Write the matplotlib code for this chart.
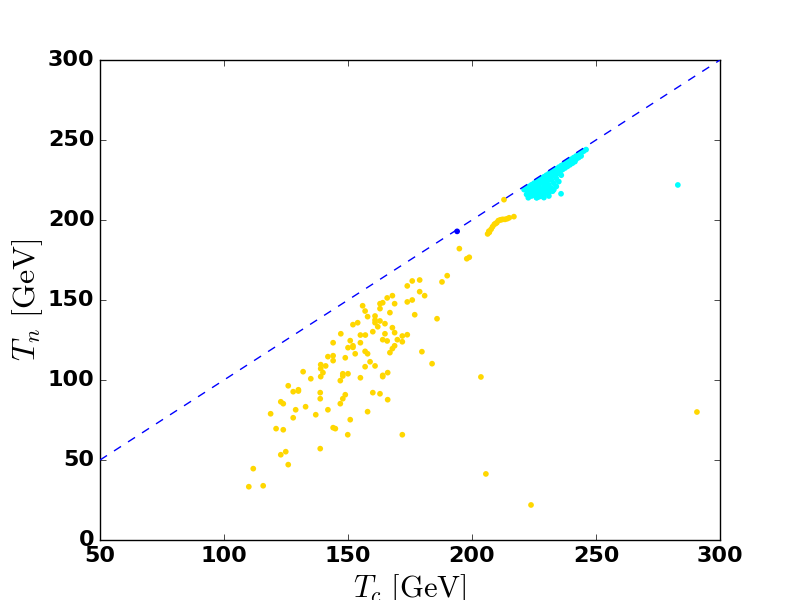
import numpy as np
import matplotlib
matplotlib.use('Agg')
import matplotlib.pyplot as plt

# yellow points (T_c, T_n) in GeV
yellow_tc = [190.0, 187.9, 178.9, 175.9, 173.9, 178.9, 180.9, 175.9, 173.9, 167.9,
             165.8, 164.0, 162.9, 168.8, 155.9, 162.9, 156.9, 166.9, 176.9, 160.9,
             157.9, 185.9, 160.9, 162.9, 153.9, 152.0, 164.9, 160.9, 162.0, 167.9,
             160.0, 168.8, 164.9, 147.1, 155.0, 157.0, 173.9, 171.9, 164.0, 169.9,
             165.8, 171.9, 150.9, 155.0, 144.0, 152.0, 152.0, 150.0, 168.8, 167.9,
             166.9, 156.9, 157.9, 152.9, 179.8, 141.9, 144.0, 148.9, 144.0, 158.9,
             183.9, 139.0, 141.0, 156.9, 160.9, 139.0, 131.9, 139.9, 166.0, 147.9,
             150.0, 147.9, 164.0, 164.0, 139.0, 135.0, 155.0, 146.9, 125.9, 127.9,
             130.0, 130.0, 138.8, 148.9, 160.0, 162.9, 166.0, 122.9, 123.9, 138.8,
             147.9, 146.9, 132.9, 128.9, 141.9, 118.8, 137.0, 157.9, 127.9, 150.9,
             121.0, 123.9, 144.0, 144.9, 149.9, 124.9, 122.9, 138.8, 125.9, 111.8,
             110.0, 115.8, 171.9, 205.6, 223.8, 290.7, 203.6, 212.9,
             206.3, 207.0, 207.7, 208.3, 209.0, 210.0, 210.6, 211.3, 212.4, 213.3,
             214.2, 215.0, 216.9, 206.8, 209.5, 211.8, 194.9, 197.9, 198.9]
yellow_tn = [165.2, 161.3, 162.5, 161.9, 158.8, 155.2, 152.7, 150.0, 148.8, 152.7,
             151.3, 148.3, 147.7, 147.7, 146.4, 144.6, 143.1, 142.1, 140.8, 140.0,
             139.6, 138.3, 137.5, 136.9, 135.8, 134.6, 135.2, 135.8, 133.3, 132.7,
             130.2, 129.6, 128.9, 128.9, 128.1, 128.1, 128.3, 127.5, 125.2, 125.2,
             124.4, 123.9, 124.6, 123.3, 123.3, 121.4, 120.4, 120.2, 121.4, 119.6,
             117.1, 117.9, 116.4, 116.4, 117.7, 114.6, 115.2, 113.9, 112.1, 111.4,
             110.2, 109.6, 108.8, 108.3, 108.8, 107.1, 105.2, 104.6, 104.6, 103.9,
             103.9, 102.5, 102.9, 102.1, 102.1, 100.8, 101.4, 99.6, 96.4, 92.7,
             93.9, 93.1, 92.1, 90.8, 92.1, 91.4, 87.7, 86.4, 85.2, 88.3,
             88.3, 85.2, 83.3, 81.4, 81.4, 78.9, 78.3, 80.2, 76.4, 75.2,
             69.6, 68.9, 70.2, 69.6, 65.8, 55.2, 53.3, 57.1, 47.1, 44.6,
             33.3, 33.9, 65.8, 41.3, 21.9, 80.0, 101.9, 212.7,
             191.3, 192.3, 194.2, 195.8, 197.3, 198.3, 199.6, 200.0, 200.4, 200.4,
             200.8, 201.4, 202.1, 193.0, 197.8, 200.2, 182.1, 175.8, 176.7]

# cyan points
cyan_tc = [221, 222, 223, 224, 225, 226, 227, 228, 229, 230, 231, 232, 233, 234,
           235, 236, 237, 238, 239, 240, 241, 242, 243, 244, 245, 246,
           228, 230, 232, 234, 236, 238, 240, 242, 244, 233, 235, 237, 239, 241, 243,
           222, 223, 224, 225, 226, 227, 226, 228, 229, 230, 231, 232, 233, 234,
           229, 231, 227, 225, 224, 230, 232, 234, 236, 235, 233, 228, 223,
           222.5, 223.5, 224.5, 225.5, 226.5, 227.5, 228.5, 229.5, 230.5, 231.5,
           222.5, 223.5, 224.5, 225.5, 226.5, 227.5, 228.5, 229.5, 230.5, 231.5,
           232.5, 233.5, 234.5, 235.5, 236.5, 237.5, 238.5, 239.5, 240.5, 241.5,
           224.5, 226.5, 228.5, 230.5, 232.5, 227.0, 229.0, 231.0,
           222.7, 226.1, 235.9, 283.0]
cyan_tn = [219, 220, 221, 222, 223, 224, 225, 226, 227, 228, 229, 230, 231, 232,
           233, 234, 235, 236, 237, 238, 239, 240, 241, 242, 243, 244,
           224, 226, 228, 230, 232, 234, 236, 238, 240, 229, 231, 233, 235, 237, 239,
           216, 218, 215, 219, 217, 220, 214, 218, 221, 219, 222, 220, 223, 221,
           216, 217, 222, 221, 219, 223, 225, 226, 228, 224, 219, 215, 215,
           217.5, 216.5, 217.5, 216.0, 218.5, 217.0, 219.5, 218.0, 220.5, 219.5,
           219.5, 220.0, 221.0, 221.5, 222.0, 223.0, 223.5, 224.5, 225.0, 226.0,
           227.5, 228.5, 229.0, 230.0, 231.5, 232.5, 233.5, 234.5, 235.5, 236.5,
           215.5, 215.5, 216.5, 217.0, 218.0, 214.5, 214.0, 215.0,
           213.9, 213.9, 216.4, 221.9]

# single blue point
blue_tc = [194.0]
blue_tn = [192.9]

diag = [50, 300]

plt.style.use('classic')
plt.rcParams['mathtext.fontset'] = 'cm'

fig = plt.figure(figsize=(8, 6), dpi=100)
ax = fig.add_axes([0.125, 0.1, 0.775, 0.8])

ax.scatter(yellow_tc, yellow_tn, s=17, color='gold', edgecolors='none', zorder=2)
ax.scatter(cyan_tc, cyan_tn, s=17, color='cyan', edgecolors='none', zorder=2)
ax.scatter(blue_tc, blue_tn, s=17, color='blue', edgecolors='none', zorder=2)
ax.plot(diag, diag, 'b--', lw=1, zorder=3)

ax.set_xlim(50, 300)
ax.set_ylim(0, 300)
ax.set_xticks([50, 100, 150, 200, 250, 300])
ax.set_yticks([0, 50, 100, 150, 200, 250, 300])
for lab in ax.get_xticklabels() + ax.get_yticklabels():
    lab.set_fontsize(16)
    lab.set_fontweight('bold')

ax.set_xlabel(r'$T_c\ [\mathrm{GeV}]$', fontsize=22, labelpad=5)
ax.set_ylabel(r'$T_n\ [\mathrm{GeV}]$', fontsize=23, labelpad=2)

fig.savefig('out.png', dpi=100)
